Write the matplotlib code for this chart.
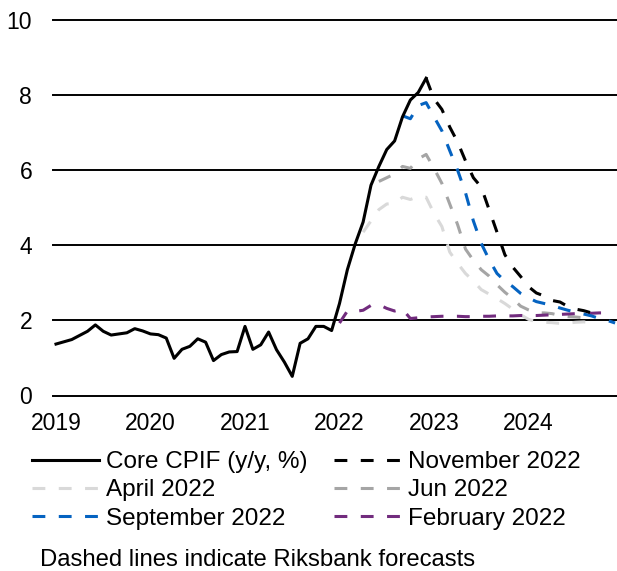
import matplotlib
matplotlib.use('Agg')
import matplotlib.pyplot as plt

plt.rcParams['font.family'] = ['Liberation Sans', 'DejaVu Sans']

# x positions: months counted from Jan 2019 (0)
year_ticks = [0, 12, 24, 36, 48, 60]
year_labels = ['2019', '2020', '2021', '2022', '2023', '2024']

core_start = 0
core = [1.37, 1.43, 1.49, 1.60, 1.71, 1.88, 1.71, 1.61, 1.64, 1.67, 1.78, 1.72,
        1.64, 1.62, 1.53, 0.99, 1.23, 1.31, 1.51, 1.42, 0.93, 1.09, 1.16, 1.17,
        1.84, 1.23, 1.35, 1.69, 1.22, 0.89, 0.51, 1.39, 1.51, 1.84, 1.84, 1.73,
        2.45, 3.35, 4.04, 4.62, 5.60, 6.10, 6.55, 6.78, 7.42, 7.87, 8.07, 8.45]

nov_start = 47
nov22 = [8.45, 7.90, 7.62, 7.15, 6.75, 6.25, 5.80, 5.55, 4.95, 4.35, 3.75, 3.42,
         3.17, 2.90, 2.73, 2.65, 2.53, 2.49, 2.37, 2.30, 2.26, 2.20, 2.17]

apr_start = 39
apr22 = [4.35, 4.65, 4.95, 5.10, 5.12, 5.28, 5.22, 5.30, 5.28, 4.85, 4.50, 3.82,
         3.52, 3.25, 3.05, 2.82, 2.70, 2.58, 2.45, 2.30, 2.15, 2.03, 1.96, 1.95,
         1.94, 1.92, 1.93, 1.95, 1.96, 1.95]

jun_start = 41
jun22 = [5.70, 5.80, 5.90, 6.10, 6.05, 6.30, 6.42, 6.05, 5.65, 5.10, 4.55, 3.90,
         3.60, 3.35, 3.18, 2.95, 2.75, 2.58, 2.38, 2.28, 2.20, 2.20, 2.18, 2.13,
         2.10, 2.09, 2.07, 2.05]

sep_start = 44
sep22 = [7.45, 7.37, 7.72, 7.80, 7.42, 7.05, 6.52, 6.00, 5.40, 4.65, 4.05, 3.62,
         3.25, 3.05, 2.90, 2.72, 2.60, 2.50, 2.45, 2.40, 2.33, 2.27, 2.22, 2.17,
         2.12, 2.05, 2.00, 1.93]

feb_start = 36
feb22 = [1.93, 2.25, 2.24, 2.27, 2.40, 2.42, 2.32, 2.25, 2.30, 2.05, 2.07, 2.09,
         2.10, 2.11, 2.11, 2.11, 2.10, 2.10, 2.11, 2.11, 2.12, 2.12, 2.12, 2.13,
         2.13, 2.13, 2.14, 2.15, 2.16, 2.17, 2.18, 2.18, 2.19, 2.20, 2.20]

def xs(start, vals):
    return list(range(start, start + len(vals)))

W, H = 617, 571
fig = plt.figure(figsize=(W / 100, H / 100), dpi=100)
ax = fig.add_axes([53 / W, (H - 395.5) / H, 564 / W, 375.5 / H])

lw = 2.2
dash = (0, (4.2, 4.4))

for yv in range(0, 11, 2):
    ax.axhline(yv, color='black', lw=1.4, zorder=1, clip_on=False)

l_apr, = ax.plot(xs(apr_start, apr22), apr22, color='#D9D9D9', lw=lw, ls=dash, zorder=2)
l_jun, = ax.plot(xs(jun_start, jun22), jun22, color='#A5A5A5', lw=lw, ls=dash, zorder=3)
l_feb, = ax.plot(xs(feb_start, feb22), feb22, color='#722C7E', lw=lw, ls=dash, zorder=4)
l_sep, = ax.plot(xs(sep_start, sep22), sep22, color='#0563C1', lw=lw, ls=dash, zorder=5)
l_nov, = ax.plot(xs(nov_start, nov22), nov22, color='black', lw=lw, ls=dash, zorder=6)
l_core, = ax.plot(xs(core_start, core), core, color='black', lw=lw, zorder=7,
                  solid_joinstyle='round')

ax.set_xlim(-0.381, 71.24)
ax.set_ylim(0, 10)
ax.set_yticks(range(0, 11, 2))
ax.set_xticks(year_ticks)
ax.set_xticklabels(year_labels)
ax.tick_params(axis='both', length=0, labelsize=16.5, colors='black')
ax.tick_params(axis='y', pad=15)
ax.tick_params(axis='x', pad=12)
for s in ax.spines.values():
    s.set_visible(False)

handles = [l_core, l_apr, l_sep, l_nov, l_jun, l_feb]
labels = ['Core CPIF (y/y, %)', 'April 2022', 'September 2022',
          'November 2022', 'Jun 2022', 'February 2022']
fig.legend(handles, labels, ncol=2, loc='upper left',
           bbox_to_anchor=(31.5 / W, 1 - 451 / H), frameon=False,
           fontsize=17.5, handlelength=2.76, handletextpad=0.31,
           columnspacing=1.07, labelspacing=0.26, borderaxespad=0, borderpad=0)

fig.text(40 / W, 1 - 560 / H, 'Dashed lines indicate Riksbank forecasts',
         fontsize=17.2, va='center', ha='left')

fig.savefig('out.png', dpi=100)
